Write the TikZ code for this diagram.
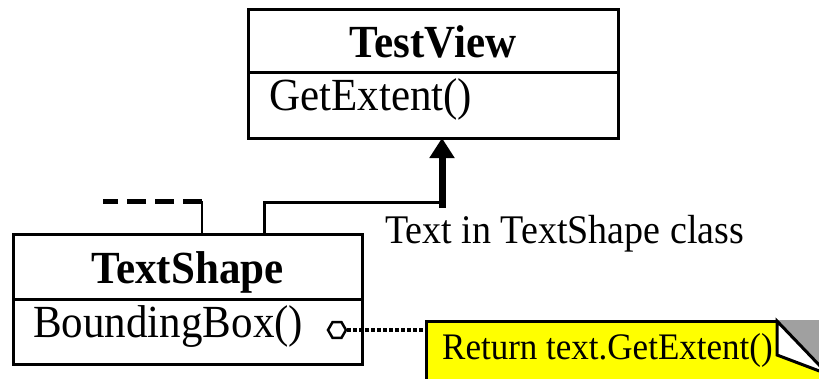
\documentclass[tikz,border=0pt]{standalone}
\usepackage{fontspec}
\setmainfont{Liberation Serif}
\usetikzlibrary{arrows.meta,shapes.geometric}
\definecolor{notefill}{RGB}{255,255,0}
\definecolor{foldgray}{RGB}{160,160,160}
\newcommand{\tallertext}[1]{\scalebox{1}[1.07]{#1}}
\begin{document}
\begin{tikzpicture}[x=1pt,y=-1pt,
  umlbox/.style={draw, line width=3pt, inner sep=0pt, outer sep=0pt, anchor=north west},
  classname/.style={font=\fontsize{43}{50}\selectfont\bfseries, anchor=base, inner sep=0pt},
  member/.style={font=\fontsize{43}{50}\selectfont, anchor=base west, inner sep=0pt},
  caption/.style={font=\fontsize{38}{42}\selectfont, anchor=base west, inner sep=0pt},
  notetxt/.style={font=\fontsize{35}{40}\selectfont, anchor=base west, inner sep=0pt},
  link/.style={line width=3pt},
  port/.style={draw, regular polygon, regular polygon sides=6, minimum size=18pt, line width=2.5pt, fill=white, inner sep=0pt},
  notelink/.style={line width=4pt, dash pattern=on 4pt off 2pt},
]
\useasboundingbox (0,0) rectangle (819,378);
\clip (0,0) rectangle (819,378);

% class TestView
\node[umlbox, minimum width=370pt, minimum height=129pt] (testview) at (248,9) {};
\coordinate (tvdiv) at (248,72);
\draw[link] (tvdiv) -- (tvdiv -| testview.east);
\node[classname] (tvname) at (433,57) {\tallertext{TestView}};
\node[member] (tvop) at (269,110) {\tallertext{GetExtent()}};

% class TextShape
\node[umlbox, minimum width=349pt, minimum height=130pt] (textshape) at (13,234) {};
\coordinate (tsdiv) at (13,299);
\draw[link] (tsdiv) -- (tsdiv -| textshape.east);
\node[classname] (tsname) at (187.5,283) {\tallertext{TextShape}};
\node[member] (tsop) at (33,337) {\tallertext{BoundingBox()}};

% generalization TextShape -> TestView
\coordinate (gen) at (442,202);
\coordinate (genfoot) at (264,234);
\draw[link] (genfoot) |- (gen);
\draw[line width=7pt, -{Triangle[length=20pt,width=24pt]}] ([yshift=-6pt]gen) -- (gen |- testview.south);

% second, dashed branch
\coordinate (stub) at (202,201);
\coordinate (stubend) at (103,201);
\draw[line width=2.5pt] (stub |- textshape.north) -- (stub);
\draw[line width=5pt, dash pattern=on 19pt off 9pt] (stub) -- (stubend);

\node[caption] (lbl) at (385,243) {\tallertext{Text in TextShape class}};

% note attached to BoundingBox()
\node[draw, fill=notefill, line width=3pt, anchor=north west, minimum width=450pt, minimum height=100pt, inner sep=0pt] (note) at (425,320) {};
\fill[foldgray] (776,320) -- (825,320) -- (825,371) -- (777,322) -- cycle;
\filldraw[fill=white, line width=3pt, line join=miter] (777,321) -- (777,355) -- (822,372) -- (822,368) -- cycle;
\node[notetxt] (notetext) at (442,359) {\tallertext{Return text.GetExtent()}};

\node[port] (tsport) at (337,330) {};
\draw[notelink] (tsport.east) -- (tsport.east -| note.west);
\end{tikzpicture}
\end{document}
